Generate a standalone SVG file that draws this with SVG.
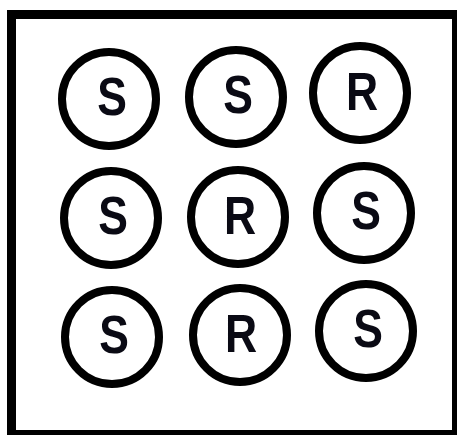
<svg xmlns="http://www.w3.org/2000/svg" width="457" height="435" viewBox="0 0 457 435">
<style>
.n circle{fill:none;stroke:#000;stroke-width:8}
.n text{font-family:"Liberation Sans",Arial,sans-serif;font-weight:bold;font-size:53px;text-anchor:middle;fill:#0a0a14}
</style>
<rect x="0" y="0" width="457" height="435" fill="#fff"/>
<rect x="11.5" y="14.5" width="445" height="420" fill="none" stroke="#000" stroke-width="9"/>
<g id="n11" class="n"><circle cx="109" cy="99" r="47"/><text transform="translate(112,115) scale(0.84,1)">S</text></g>
<g id="n12" class="n"><circle cx="236" cy="97" r="47"/><text transform="translate(238,113) scale(0.84,1)">S</text></g>
<g id="n13" class="n"><circle cx="360" cy="93" r="47"/><text transform="translate(362,110) scale(0.84,1)">R</text></g>
<g id="n21" class="n"><circle cx="111" cy="218" r="47"/><text transform="translate(113,234) scale(0.84,1)">S</text></g>
<g id="n22" class="n"><circle cx="238" cy="217" r="47"/><text transform="translate(240,234) scale(0.84,1)">R</text></g>
<g id="n23" class="n"><circle cx="364" cy="213" r="47"/><text transform="translate(366,229) scale(0.84,1)">S</text></g>
<g id="n31" class="n"><circle cx="112" cy="337" r="47"/><text transform="translate(114,353) scale(0.84,1)">S</text></g>
<g id="n32" class="n"><circle cx="240" cy="335" r="47"/><text transform="translate(241,352) scale(0.84,1)">R</text></g>
<g id="n33" class="n"><circle cx="366" cy="331" r="47"/><text transform="translate(368,347) scale(0.84,1)">S</text></g>
<g id="connectors"></g>
</svg>
